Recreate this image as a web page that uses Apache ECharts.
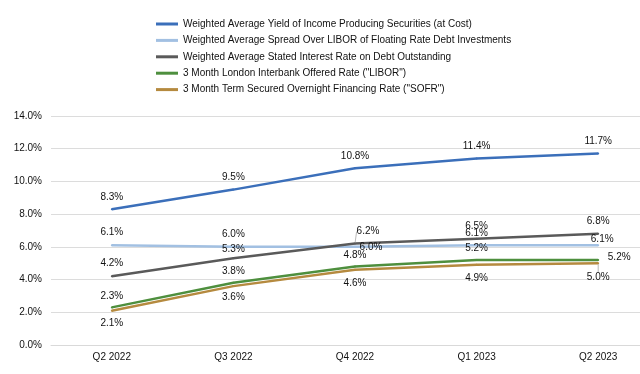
<!DOCTYPE html>
<html>
<head>
<meta charset="utf-8">
<script src="https://cdn.jsdelivr.net/npm/echarts@6/dist/echarts.min.js"></script>
<style>
html,body{margin:0;padding:0;background:#fff;}
#c{width:640px;height:374px;}
</style>
</head>
<body>
<div id="c"></div>
<script>
const categories = ["Q2 2022", "Q3 2022", "Q4 2022", "Q1 2023", "Q2 2023"];
const seriesNames = [
  "Weighted Average Yield of Income Producing Securities (at Cost)",
  "Weighted Average Spread Over LIBOR of Floating Rate Debt Investments",
  "Weighted Average Stated Interest Rate on Debt Outstanding",
  "3 Month London Interbank Offered Rate (\"LIBOR\")",
  "3 Month Term Secured Overnight Financing Rate (\"SOFR\")"
];
const yieldValues = [8.3, 9.5, 10.8, 11.4, 11.7];
const spreadValues = [6.1, 6.0, 6.0, 6.1, 6.1];
const statedRateValues = [4.2, 5.3, 6.2, 6.5, 6.8];
const liborValues = [2.3, 3.8, 4.8, 5.2, 5.2];
const sofrValues = [2.1, 3.6, 4.6, 4.9, 5.0];
const yTicks = [0, 2, 4, 6, 8, 10, 12, 14];

const colors = ["#3b6fba", "#a2c0e2", "#5a5a5a", "#4e8f3e", "#b58a3f"];
const FONT = "'Liberation Sans', Arial, Helvetica, sans-serif";
const TXT = "#111111";

// label offsets [dx, dy] per point
const labelOffsets = [
  [[0,-12],[0,-12],[0,-12],[0,-12],[0,-12]],
  [[0,-13],[0,-13],[16,0],[0,-12],[4,-6]],
  [[0,-13],[0,-9],[13,-12],[0,-12],[0,-12.5]],
  [[0,-11],[0,-12],[0,-11.5],[0,-12],[21,-3]],
  [[0,13],[0,11],[0,13],[0,13],[0,14]]
];
// points whose labels are pulled away with a leader line
const leaders = [[],[],[2],[],[4]];
const allValues = [yieldValues, spreadValues, statedRateValues, liborValues, sofrValues];

const series = allValues.map((vals, si) => ({
  name: seriesNames[si],
  type: 'line',
  symbol: 'circle',
  symbolSize: 2,
  showSymbol: true,
  lineStyle: { width: 2.5, color: colors[si] },
  itemStyle: { color: colors[si] },
  emphasis: { disabled: true },
  labelLine: { show: false, showAbove: true, lineStyle: { color: '#a6a6a6', width: 0.8 } },
  labelLayout: function (p) {
    const o = labelOffsets[si][p.dataIndex];
    return { dx: o[0], dy: o[1] };
  },
  data: vals.map((v, i) => ({
    value: v,
    label: {
      show: true,
      position: 'inside',
      formatter: p => p.value.toFixed(1) + '%',
      color: TXT,
      fontSize: 10,
      fontFamily: FONT
    },
    labelLine: { show: leaders[si].includes(i) }
  }))
}));

const chart = echarts.init(document.getElementById('c'), null, { renderer: 'canvas' });
chart.setOption({
  animation: false,
  color: colors,
  textStyle: { fontFamily: FONT },
  legend: {
    orient: 'vertical',
    left: 156,
    top: 18,
    padding: 0,
    itemWidth: 22,
    itemHeight: 3,
    itemGap: 4.4,
    icon: 'rect',
    textStyle: { fontSize: 10, color: TXT, fontFamily: FONT, lineHeight: 12 },
    data: seriesNames
  },
  grid: { left: 51, width: 608, top: 116, bottom: 29, containLabel: false, outerBoundsMode: 'none' },
  xAxis: {
    type: 'category',
    data: categories,
    boundaryGap: true,
    axisLine: { show: true, lineStyle: { color: '#d9d9d9', width: 1 } },
    axisTick: { show: false },
    axisLabel: { color: TXT, fontSize: 10, fontFamily: FONT, margin: 7 }
  },
  yAxis: {
    type: 'value',
    min: yTicks[0],
    max: yTicks[yTicks.length - 1],
    interval: yTicks[1] - yTicks[0],
    axisLine: { show: false },
    axisTick: { show: false },
    splitLine: { lineStyle: { color: '#dcdcdc', width: 1 } },
    axisLabel: { color: TXT, fontSize: 10, fontFamily: FONT, margin: 9, formatter: v => v.toFixed(1) + '%' }
  },
  series: series
});
</script>
</body>
</html>
